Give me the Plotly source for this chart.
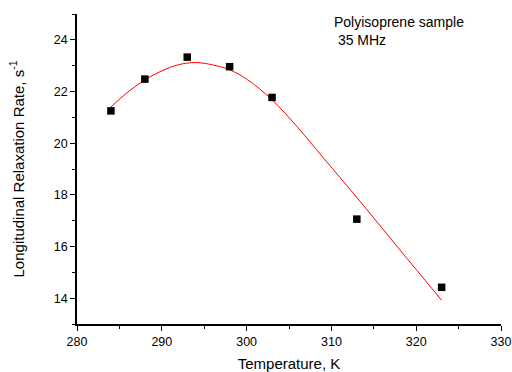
import plotly.graph_objects as go

# measured data points
temperature = [284, 288, 293, 298, 303, 313, 323]
rate = [21.25, 22.48, 23.33, 22.96, 21.77, 17.06, 14.42]

# fitted curve
fit_temperature = [284, 286, 288, 290, 292, 294, 296, 298, 300, 303, 306, 309, 313, 318, 323]
fit_rate = [21.40, 21.98, 22.45, 22.80, 23.04, 23.12, 23.03, 22.84, 22.48, 21.68, 20.62, 19.45, 17.90, 15.90, 13.92]

x_ticks = [280, 290, 300, 310, 320, 330]
y_ticks = [14, 16, 18, 20, 22, 24]

fig = go.Figure()
fig.add_trace(go.Scatter(x=fit_temperature, y=fit_rate, mode="lines",
                         line=dict(color="#ff0000", width=1, shape="spline", smoothing=1),
                         showlegend=False))
fig.add_trace(go.Scatter(x=temperature, y=rate, mode="markers",
                         marker=dict(symbol="square", size=7.5, color="black"),
                         showlegend=False))

font = "Liberation Sans, Arial, sans-serif"
fig.update_layout(
    width=512, height=372,
    margin=dict(l=77, r=11, t=14, b=48),
    paper_bgcolor="white", plot_bgcolor="white",
    font=dict(family=font, color="black", size=12.5),
    showlegend=False,
    xaxis=dict(range=[280, 330], tickvals=x_ticks, automargin=False,
               showgrid=False, zeroline=False, showline=True, linecolor="black",
               linewidth=1.5, ticks="outside", ticklen=5, tickwidth=1, tickcolor="black",
               minor=dict(dtick=5, ticks="outside", ticklen=3, tickcolor="black", showgrid=False),
               title=dict(text="Temperature, K", font=dict(size=15), standoff=12)),
    yaxis=dict(range=[13, 25], tickvals=y_ticks, automargin=False,
               showgrid=False, zeroline=False, showline=True, linecolor="black",
               linewidth=1.5, ticks="outside", ticklen=5, tickwidth=1, tickcolor="black",
               minor=dict(dtick=1, ticks="outside", ticklen=3, tickcolor="black", showgrid=False),
               title=dict(text="Longitudinal Relaxation Rate, s<sup>-1</sup>", font=dict(size=15), standoff=26)),
)
fig.add_annotation(xref="paper", yref="paper", x=(332 - 77) / 424, y=1.0, yshift=2,
                   xanchor="left", yanchor="top", align="left", showarrow=False,
                   text="Polyisoprene sample<br>&nbsp;35 MHz", font=dict(size=14))

fig.write_html("out.html", config={"displayModeBar": False},
               post_script="document.body.style.margin='0';document.body.style.overflow='hidden';")
